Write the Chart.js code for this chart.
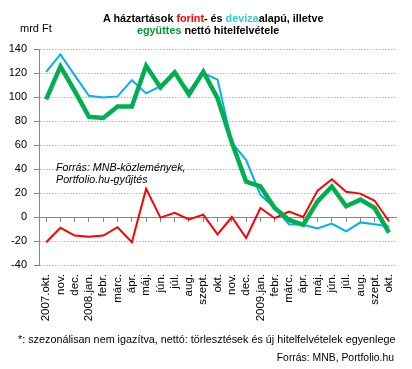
<!DOCTYPE html>
<html>
<head>
<meta charset="utf-8">
<script src="https://cdn.jsdelivr.net/npm/chart.js@4/dist/chart.umd.min.js"></script>
<style>
  body { margin: 0; background: #fff; }
  #wrap { position: relative; width: 412px; height: 369px; overflow: hidden; font-family: 'Liberation Sans', Arial, sans-serif; color: #000; }
  #chart { position: absolute; left: 0; top: 0; }
  .txt { position: absolute; white-space: nowrap; line-height: 12px; }
  .title { font-weight: bold; font-size: 10.8px; }
  .note { font-style: italic; font-size: 10.7px; }
</style>
</head>
<body>
<div id="wrap">
  <canvas id="chart" width="412" height="369"></canvas>
  <div class="txt title" id="t1">A háztartások <span style="color:#ff0000">forint</span>- és <span style="color:#33cccc">deviza</span>alapú, illetve</div>
  <div class="txt title" id="t2"><span style="color:#009933">együttes</span> nettó hitelfelvétele</div>
  <div class="txt" style="left:20px; top:22px; font-size:11px;">mrd Ft</div>
  <div class="txt note" style="left:56px; top:161px;">Forrás: MNB-közlemények,<br>Portfolio.hu-gyűjtés</div>
  <div class="txt" id="foot" style="left:18px; top:333px; font-size:10.8px;">*: szezonálisan nem igazítva, nettó: törlesztések és új hitelfelvételek egyenlege</div>
  <div class="txt" style="right:18px; top:352px; font-size:10.4px;">Forrás: MNB, Portfolio.hu</div>
</div>
<script>
// havi adatok, mrd Ft
const labels = ['2007.okt.', 'nov.', 'dec.', '2008.jan.', 'febr.', 'márc.', 'ápr.', 'máj.', 'jún.', 'júl.', 'aug.', 'szept.', 'okt.',
                'nov.', 'dec.', '2009.jan.', 'febr.', 'márc.', 'ápr.', 'máj.', 'jún.', 'júl.', 'aug.', 'szept.', 'okt.'];
const forint = [-21, -9, -15.5, -16.5, -15.5, -8.5, -21, 23.5, -0.5, 3.5, -2, 2, -14.5,
                0, -17.5, 7.5, -1, 4.5, 0, 22, 31.5, 21, 19.5, 13.5, -3.5];
const deviza = [121, 135.5, 118, 101, 99.5, 100.5, 114, 103, 109, 119, 105, 120, 114.5,
                62, 47.5, 18.5, 7.5, -6, -6.5, -9.5, -5.5, -12, -4.5, -6, -8];
const egyuttes = [98, 125.5, 105, 83.5, 82.5, 92, 92, 126, 108, 120.5, 102, 121, 99,
                  62, 29.5, 25.5, 7.5, -2.5, -6.5, 13, 25.5, 9, 14.5, 7.5, -13];
const yTicks = [-40, -20, 0, 20, 40, 60, 80, 100, 120, 140];

// title lines centred a bit differently, like the original
function centreAt(id, cx) {
  const el = document.getElementById(id);
  el.style.left = (cx - el.offsetWidth / 2) + 'px';
}
document.getElementById('t1').style.top = '12px';
document.getElementById('t2').style.top = '24px';
centreAt('t1', 213);
centreAt('t2', 208);

const axisGray = '#868686';
const font = { family: "'Liberation Sans', Arial, sans-serif", size: 11 };

const ctx = document.getElementById('chart');

const myChart = new Chart(ctx, {
  type: 'line',
  data: {
    labels: labels,
    datasets: [
      { label: 'együttes', data: egyuttes, borderColor: '#00b050', borderWidth: 4.5, order: 1 },
      { label: 'forint', data: forint, borderColor: '#ff0000', borderWidth: 2, order: 2 },
      { label: 'deviza', data: deviza, borderColor: '#00b0f0', borderWidth: 2, order: 3 }
    ]
  },
  options: {
    responsive: false,
    animation: false,
    events: [],
    elements: {
      line: { tension: 0, fill: false },
      point: { radius: 0 }
    },
    layout: { padding: { left: 0, top: 49, right: 12, bottom: 46 } },
    plugins: {
      legend: { display: false },
      tooltip: { enabled: false }
    },
    scales: {
      x: {
        type: 'category',
        offset: true,
        grid: { display: false, drawTicks: false },
        border: { display: false },
        ticks: {
          color: '#000',
          font: { family: font.family, size: 11.5 },
          minRotation: 90,
          maxRotation: 90,
          autoSkip: false,
          padding: 9
        },
        afterFit: (scale) => { scale.height = 58; }
      },
      // the zero line with its little tick marks
      x2: {
        type: 'category',
        axis: 'x',
        position: { y: 0 },
        labels: labels,
        offset: true,
        ticks: { display: false },
        grid: { drawOnChartArea: false, drawTicks: true, tickLength: 4, tickColor: axisGray, tickBorderDash: [] },
        border: { display: true, color: axisGray, width: 1 }
      },
      y: {
        min: -40,
        max: 140,
        afterBuildTicks: (scale) => { scale.ticks = yTicks.map(v => ({ value: v })); },
        ticks: { color: '#000', font: font, padding: 7 },
        grid: { color: '#b4b4b4', lineWidth: 1, tickLength: 5, tickColor: axisGray, tickBorderDash: [] },
        border: { display: true, color: axisGray, width: 1, dash: [1.5, 1.5] },
        afterFit: (scale) => { scale.width = 39; }
      }
    }
  }
});
</script>
</body>
</html>
